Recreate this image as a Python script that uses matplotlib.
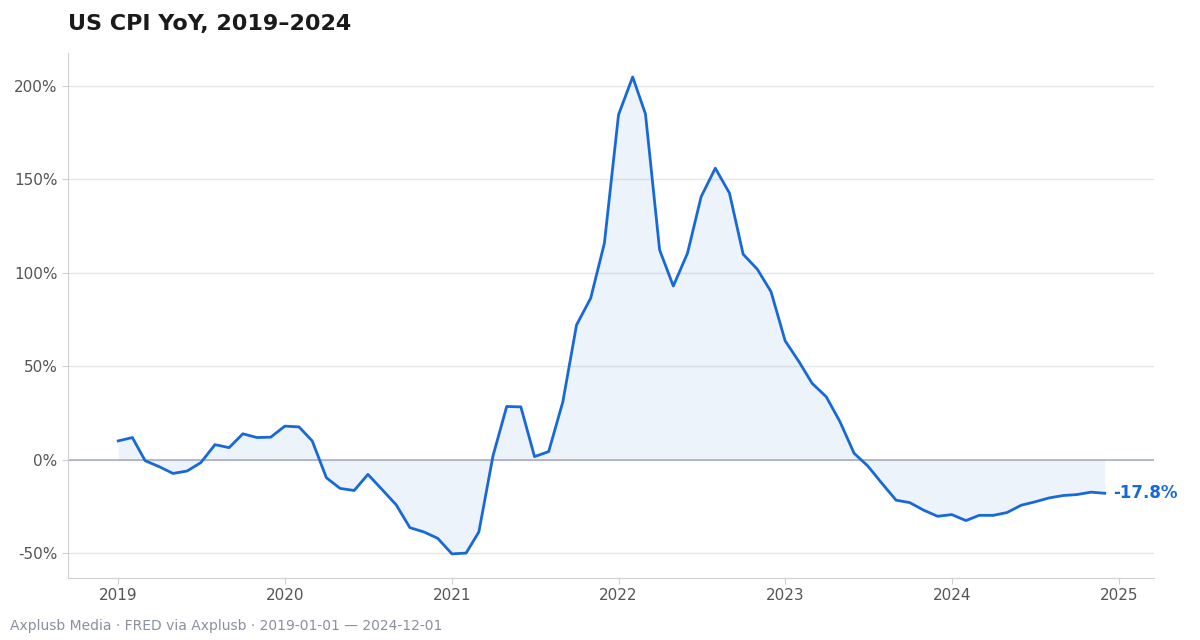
import pandas as pd
import matplotlib.pyplot as plt
import matplotlib.dates as mdates
from matplotlib.ticker import FuncFormatter

# Monthly YoY values (%), Jan 2019 - Dec 2024
months = pd.date_range('2019-01-01', '2024-12-01', freq='MS')
yoy = [
    10.2, 12.0, -0.4, -3.6, -7.2, -5.9, -1.4, 8.2, 6.6, 14.0, 12.0, 12.2,
    18.1, 17.7, 10.2, -9.5, -15.2, -16.3, -7.7, -15.8, -24.0, -36.2, -38.5, -41.9,
    -50.2, -49.8, -38.5, 2.2, 28.6, 28.4, 1.8, 4.5, 31.1, 72.2, 86.5, 115.9,
    184.6, 204.8, 185.0, 112.3, 93.0, 110.5, 140.8, 156.0, 142.7, 110.0, 102.0, 90.0,
    63.7, 52.3, 41.0, 33.8, 20.5, 3.6, -3.2, -12.5, -21.5, -22.8, -26.9, -30.1,
    -29.2, -32.4, -29.6, -29.6, -28.1, -24.2, -22.4, -20.3, -19.0, -18.5, -17.2, -17.8,
]
y_ticks = [-50, 0, 50, 100, 150, 200]

line_color = '#1769d8'

fig = plt.figure(figsize=(12, 6.4), dpi=100)
ax = fig.add_axes([68 / 1200, 62 / 640, 1086 / 1200, 525 / 640])

ax.fill_between(months, yoy, 0, color=line_color, alpha=0.08, linewidth=0)
ax.plot(months, yoy, color=line_color, linewidth=2)
ax.axhline(0, color='#a3aabb', linewidth=1.1, zorder=1)

# End label
ax.annotate(f'{yoy[-1]:.1f}%', xy=(months[-1], yoy[-1]), xytext=(6, 0),
            textcoords='offset points', va='center', ha='left',
            color=line_color, fontsize=12, fontweight='bold', annotation_clip=False)

ax.set_xlim(pd.Timestamp('2018-09-13'), pd.Timestamp('2025-03-19'))
ax.set_ylim(-63.1, 217.6)
ax.set_yticks(y_ticks)
ax.yaxis.set_major_formatter(FuncFormatter(lambda v, p: f'{v:.0f}%'))
ax.xaxis.set_major_locator(mdates.YearLocator())
ax.xaxis.set_major_formatter(mdates.DateFormatter('%Y'))

ax.grid(axis='y', color='#e6e6e6', linewidth=1)
ax.set_axisbelow(True)
for side in ['top', 'right']:
    ax.spines[side].set_visible(False)
for side in ['left', 'bottom']:
    ax.spines[side].set_color('#d0d0d0')
ax.tick_params(colors='#d0d0d0', labelcolor='#555555', labelsize=11, length=4)

fig.text(68 / 1200, 1 - 24 / 640, 'US CPI YoY, 2019\u20132024', fontsize=16,
         fontweight='bold', color='#1a1a1a', va='center', ha='left')
fig.text(10 / 1200, 1 - 626 / 640, 'Axplusb Media \u00b7 FRED via Axplusb \u00b7 2019-01-01 \u2014 2024-12-01',
         fontsize=10, color='#8a90a0', va='center', ha='left')

fig.savefig('out.png', dpi=100)
